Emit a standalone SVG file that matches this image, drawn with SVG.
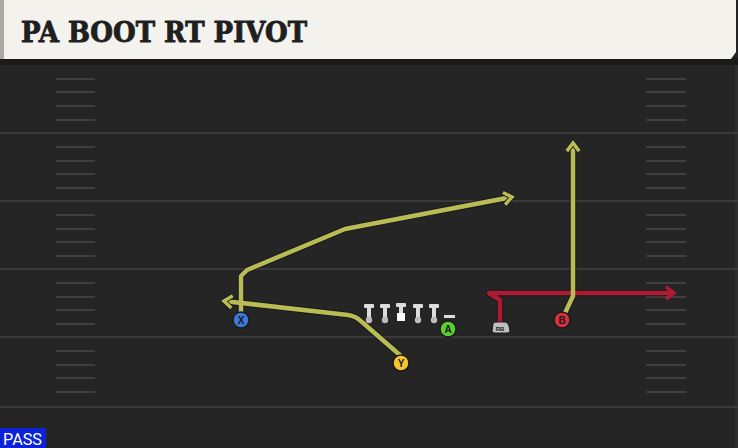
<svg xmlns="http://www.w3.org/2000/svg" width="738" height="448" viewBox="0 0 738 448">
<defs>
<style>
.yard{stroke:#3a3a3a;stroke-width:2}
.hash{stroke:#404040;stroke-width:2}
.routeY{fill:none;stroke:#b9bb55;stroke-width:4.5;stroke-linejoin:round;stroke-linecap:butt}
.routeR{fill:none;stroke:#ae1a34;stroke-width:4.5;stroke-linejoin:round}
.shadow{fill:none;stroke:#141414;stroke-width:6.5;stroke-linejoin:round;opacity:0.7}
.lbl{font-family:"Liberation Sans",Arial,sans-serif;font-weight:bold;font-size:10px;fill:#1a1a1a;text-anchor:middle}
.ol{fill:#dcdcdc}
</style>
<marker id="ay" viewBox="0 0 10 10" refX="6.5" refY="5" markerWidth="3.6" markerHeight="3.6" orient="auto" markerUnits="strokeWidth">
<path d="M1.5,1.2 L6.5,5 L1.5,8.8" fill="none" stroke="#141414" stroke-width="3.2" stroke-linejoin="miter"/>
<path d="M1.5,1.2 L6.5,5 L1.5,8.8" fill="none" stroke="#b9bb55" stroke-width="2.2" stroke-linejoin="miter"/>
</marker>
<marker id="ar" viewBox="0 0 10 10" refX="6.5" refY="5" markerWidth="3.6" markerHeight="3.6" orient="auto" markerUnits="strokeWidth">
<path d="M1.5,1.2 L6.5,5 L1.5,8.8" fill="none" stroke="#ae1a34" stroke-width="2.2" stroke-linejoin="miter"/>
</marker>
<g id="lineman">
<rect x="-5" y="0" width="10" height="4" rx="1" class="ol"/>
<rect x="-2" y="3" width="4" height="12" class="ol"/>
<circle cx="0" cy="16" r="3.2" fill="#bdbdbd"/>
</g>
</defs>

<rect x="0" y="0" width="738" height="448" fill="#252525"/>
<rect x="735" y="60" width="3" height="388" fill="#2e2e2e"/>

<g id="header">
<rect x="0" y="58" width="738" height="7" fill="#1a1a1a"/>
<path d="M4,0 H736 V52 L731,59 H4 Z" fill="#f4f2ec"/>
<rect x="0" y="0" width="4" height="59" fill="#a9aaa5"/>
<text x="21" y="42" font-family="'DejaVu Serif',serif" font-weight="bold" font-size="27" fill="#1f1f1f" stroke="#1f1f1f" stroke-width="0.9" textLength="286" lengthAdjust="spacingAndGlyphs">PA BOOT RT PIVOT</text>
</g>

<g id="field">
<line class="yard" x1="0" y1="133" x2="738" y2="133"/>
<line class="yard" x1="0" y1="201" x2="738" y2="201"/>
<line class="yard" x1="0" y1="269" x2="738" y2="269"/>
<line class="yard" x1="0" y1="337" x2="738" y2="337"/>
<line class="yard" x1="0" y1="407" x2="738" y2="407"/>
<g class="hash">
<path d="M56,79H95M56,92H95M56,106H95M56,120H95M56,147H95M56,161H95M56,174H95M56,188H95M56,215H95M56,229H95M56,242H95M56,256H95M56,283H95M56,297H95M56,310H95M56,324H95M56,351H95M56,365H95M56,378H95M56,392H95"/>
<path d="M646,79H686M646,92H686M646,106H686M646,120H686M646,147H686M646,161H686M646,174H686M646,188H686M646,215H686M646,229H686M646,242H686M646,256H686M646,283H686M646,297H686M646,310H686M646,324H686M646,351H686M646,365H686M646,378H686M646,392H686"/>
</g>
</g>

<g id="connectors">
<path class="shadow" d="M241,312 V276 L247,270 L345,229 L512,197"/>
<path class="shadow" d="M401,356 L362,322 Q356,316 348,315 L224,301"/>
<path class="shadow" d="M565,313 L573,296 V143"/>
<path class="shadow" d="M500,323 V300 L489,293 H674"/>
<path class="routeY" d="M241,312 V276 L247,270 L345,229 L512,197" marker-end="url(#ay)"/>
<path class="routeY" d="M401,356 L362,322 Q356,316 348,315 L224,301" marker-end="url(#ay)"/>
<path class="routeR" d="M500,323 V300 L489,293 H674" marker-end="url(#ar)"/>
<path class="routeY" d="M565,313 L573,296 V143" marker-end="url(#ay)"/>
</g>

<g id="OL">
<use href="#lineman" x="369" y="304"/>
<use href="#lineman" x="385" y="304"/>
<g id="C">
<rect x="396" y="303" width="10" height="4" rx="1" class="ol"/>
<rect x="399" y="306" width="4" height="8" class="ol"/>
<rect x="397" y="313" width="8" height="8" fill="#ffffff"/>
</g>
<use href="#lineman" x="418" y="304"/>
<use href="#lineman" x="434" y="304"/>
</g>

<g id="X">
<circle cx="241" cy="320" r="8" fill="#3d78d8" stroke="#1a1a1a" stroke-width="1.5"/>
<text x="241" y="324" class="lbl">X</text>
</g>
<g id="Y">
<circle cx="401" cy="363" r="8" fill="#f2c531" stroke="#1a1a1a" stroke-width="1.5"/>
<text x="401" y="367" class="lbl">Y</text>
</g>
<g id="A">
<rect x="444" y="315" width="11" height="3" fill="#dcdcdc"/>
<circle cx="448" cy="329" r="8" fill="#5ccf2e" stroke="#1a1a1a" stroke-width="1.5"/>
<text x="448" y="333" class="lbl">A</text>
</g>
<g id="RB">
<path d="M493,324 Q493,322 496,322 H505 Q508,322 509,326 L510,331 Q510,333 507,333 H495 Q492,333 492,331 Z" fill="#bfbfbf" stroke="#1a1a1a" stroke-width="1"/>
<text x="500" y="331" font-family="'Liberation Sans',Arial,sans-serif" font-weight="bold" font-size="6" fill="#1a1a1a" text-anchor="middle">RB</text>
</g>
<g id="B">
<circle cx="562" cy="320" r="8" fill="#d8313c" stroke="#1a1a1a" stroke-width="1.5"/>
<text x="562" y="324" class="lbl">B</text>
</g>

<g id="pass">
<rect x="0" y="428" width="46" height="20" fill="#0b22d9"/>
<text x="3" y="445" font-family="Roboto,'Liberation Sans',sans-serif" font-size="16" fill="#ffffff" textLength="39" lengthAdjust="spacingAndGlyphs">PASS</text>
</g>
</svg>
